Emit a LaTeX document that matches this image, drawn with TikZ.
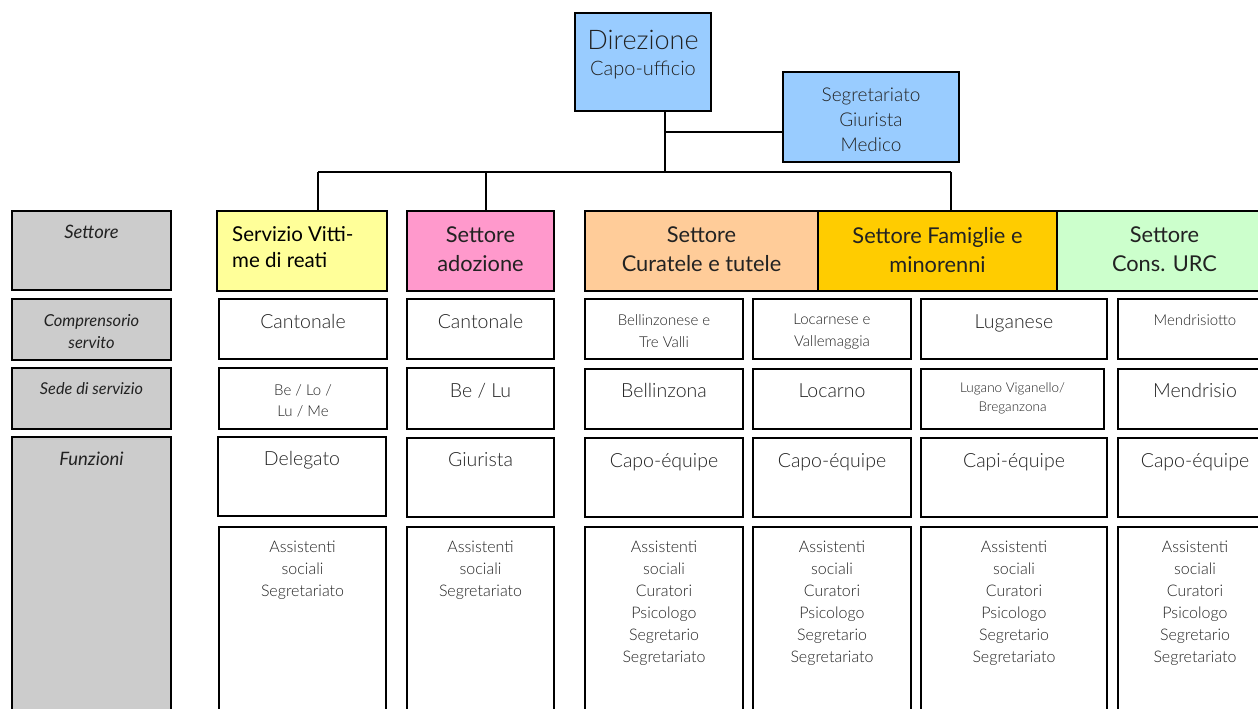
\documentclass[tikz,border=0pt]{standalone}
\usepackage{fontspec}
\setmainfont{Lato}
\newfontfamily\lightf{Lato Light}
\usetikzlibrary{calc}
\definecolor{cblue}{HTML}{99CCFF}
\definecolor{cyel}{HTML}{FFFF99}
\definecolor{cpink}{HTML}{FF99CC}
\definecolor{corange}{HTML}{FFCC99}
\definecolor{cgold}{HTML}{FFCC00}
\definecolor{cgreen}{HTML}{CCFFCC}
\definecolor{cgray}{HTML}{CCCCCC}
\definecolor{ctext}{HTML}{222222}
% box: name, x1, y1, x2, y2, fill
\newcommand\mybox[6]{\node[cellbox, fill=#6, minimum width={(#4-#2)*1pt}, minimum height={(#5-#3)*1pt}] (#1) at (#2,#3) {};}
% text: name, box, y(top), size, skip, text, font
\newcommand\mytext[7]{\node[txt, font={#7\fontsize{#4}{#5}\selectfont}] (#1) at (#2.north |- 0,#3) {#6};}
\begin{document}
\begin{tikzpicture}[x=1pt,y=-1pt,
  cellbox/.style={draw, line width=2.2pt, inner sep=0pt, outer sep=0pt, anchor=north west},
  txt/.style={anchor=north, align=center, inner sep=0pt, text=ctext},
  conn/.style={line width=2.2pt}]
\useasboundingbox (0,0) rectangle (1258,709);
% top
\mybox{dir}{575}{13}{711}{111}{cblue}
\node[txt, font={\lightf\fontsize{27}{30}\selectfont}] (dirt) at (dir.north |- 0,30) {Direzione};
\node[txt, font={\lightf\fontsize{20}{22}\selectfont}] (dirs) at (dir.north |- 0,61) {Capo-ufficio};
\mybox{seg}{783}{72}{959}{162}{cblue}
\mytext{segt}{seg}{88}{19}{25}{Segretariato\\Giurista\\Medico}{\lightf}
% left labels
\mybox{lset}{12}{211}{171}{290}{cgray}
\mytext{lsett}{lset}{225}{18.5}{22}{Settore}{\itshape}
\mybox{lcomp}{12}{299}{171}{360}{cgray}
\mytext{lcompt}{lcomp}{314}{16.5}{22}{Comprensorio\\servito}{\itshape}
\mybox{lsede}{12}{368}{171}{429}{cgray}
\mytext{lsedet}{lsede}{382}{16.3}{22}{Sede di servizio}{\itshape}
\mybox{lfun}{12}{437}{171}{725}{cgray}
\mytext{lfunt}{lfun}{452}{18.5}{22}{Funzioni}{\itshape}
% headers
\mybox{vit}{217}{211}{387}{291}{cyel}
\node[anchor=north west, align=left, inner sep=0pt, font={\fontsize{20.5}{26}\selectfont}] (vitt) at (232,226) {Servizio Vitti-\\me di reati};
\mybox{ado}{407}{211}{554}{291}{cpink}
\mytext{adot}{ado}{227}{21.8}{29}{Settore\\adozione}{}
\mybox{cur}{585}{211}{818}{291}{corange}
\mytext{curt}{cur}{227}{21.8}{29}{Settore\\Curatele e tutele}{}
\mybox{fam}{818}{211}{1057}{291}{cgold}
\mytext{famt}{fam}{227}{21.8}{29}{Settore Famiglie e\\minorenni}{}
\mybox{urc}{1057}{211}{1272}{291}{cgreen}
\mytext{urct}{urc}{227}{21.8}{29}{Settore\\Cons. URC}{}
% column 1
\mybox{a1}{219}{299}{387}{359}{white}
\mytext{a1t}{a1}{314}{19.5}{22}{Cantonale}{\lightf}
\mybox{b1}{219}{368}{387}{429}{white}
\mytext{b1t}{b1}{384}{15}{21}{Be / Lo /\\Lu / Me}{\lightf}
\mybox{f1}{218}{437}{386}{516}{white}
\mytext{f1t}{f1}{451}{19.5}{22}{Delegato}{\lightf}
\mybox{s1}{219}{527}{386}{725}{white}
\mytext{s1t}{s1}{541}{16}{22}{Assistenti\\sociali\\Segretariato}{\lightf}
% column 2
\mybox{a2}{407}{299}{554}{359}{white}
\mytext{a2t}{a2}{314}{19.5}{22}{Cantonale}{\lightf}
\mybox{b2}{407}{368}{554}{429}{white}
\mytext{b2t}{b2}{383}{19.5}{22}{Be / Lu}{\lightf}
\mybox{f2}{407}{438}{554}{517}{white}
\mytext{f2t}{f2}{452}{19.5}{22}{Giurista}{\lightf}
\mybox{s2}{407}{527}{554}{725}{white}
\mytext{s2t}{s2}{541}{16}{22}{Assistenti\\sociali\\Segretariato}{\lightf}
% column 3
\mybox{a3}{585}{299}{743}{359}{white}
\mytext{a3t}{a3}{314}{15}{22}{Bellinzonese e\\Tre Valli}{\lightf}
\mybox{b3}{585}{369}{743}{429}{white}
\mytext{b3t}{b3}{383}{19.5}{22}{Bellinzona}{\lightf}
\mybox{f3}{585}{438}{743}{517}{white}
\mytext{f3t}{f3}{453}{19.5}{22}{Capo-équipe}{\lightf}
\mybox{s3}{585}{527}{743}{725}{white}
\mytext{s3t}{s3}{541}{16}{22}{Assistenti\\sociali\\Curatori\\Psicologo\\Segretario\\Segretariato}{\lightf}
% column 4
\mybox{a4}{753}{299}{911}{359}{white}
\mytext{a4t}{a4}{314}{15}{22}{Locarnese e\\Vallemaggia}{\lightf}
\mybox{b4}{753}{369}{911}{429}{white}
\mytext{b4t}{b4}{383}{19.5}{22}{Locarno}{\lightf}
\mybox{f4}{753}{438}{911}{517}{white}
\mytext{f4t}{f4}{453}{19.5}{22}{Capo-équipe}{\lightf}
\mybox{s4}{753}{527}{911}{725}{white}
\mytext{s4t}{s4}{541}{16}{22}{Assistenti\\sociali\\Curatori\\Psicologo\\Segretario\\Segretariato}{\lightf}
% column 5
\mybox{a5}{921}{299}{1107}{359}{white}
\mytext{a5t}{a5}{315}{19.5}{22}{Luganese}{\lightf}
\mybox{b5}{921}{369}{1104}{429}{white}
\mytext{b5t}{b5}{382}{13.5}{19}{Lugano Viganello/\\Breganzona}{\lightf}
\mybox{f5}{921}{438}{1107}{517}{white}
\mytext{f5t}{f5}{453}{19.5}{22}{Capi-équipe}{\lightf}
\mybox{s5}{921}{527}{1107}{725}{white}
\mytext{s5t}{s5}{541}{16}{22}{Assistenti\\sociali\\Curatori\\Psicologo\\Segretario\\Segretariato}{\lightf}
% column 6
\mybox{a6}{1118}{299}{1272}{359}{white}
\mytext{a6t}{a6}{314}{15}{22}{Mendrisiotto}{\lightf}
\mybox{b6}{1118}{369}{1272}{429}{white}
\mytext{b6t}{b6}{383}{19.5}{22}{Mendrisio}{\lightf}
\mybox{f6}{1118}{438}{1272}{517}{white}
\mytext{f6t}{f6}{453}{19.5}{22}{Capo-équipe}{\lightf}
\mybox{s6}{1118}{527}{1272}{725}{white}
\mytext{s6t}{s6}{541}{16}{22}{Assistenti\\sociali\\Curatori\\Psicologo\\Segretario\\Segretariato}{\lightf}
% connectors
\coordinate (dj) at (665,111);
\coordinate (hub) at (665,172);
\coordinate (sj) at (665,132);
\coordinate (bl) at (318,172);
\coordinate (bm) at (486,172);
\coordinate (br) at (951,172);
\draw[conn] (dj) -- (hub);
\draw[conn] (sj) -- (sj -| seg.west);
\draw[conn] (bl) -- (br);
\draw[conn] (bl) -- (bl |- vit.north);
\draw[conn] (bm) -- (bm |- ado.north);
\draw[conn] (br) -- (br |- fam.north);
\end{tikzpicture}
\end{document}
